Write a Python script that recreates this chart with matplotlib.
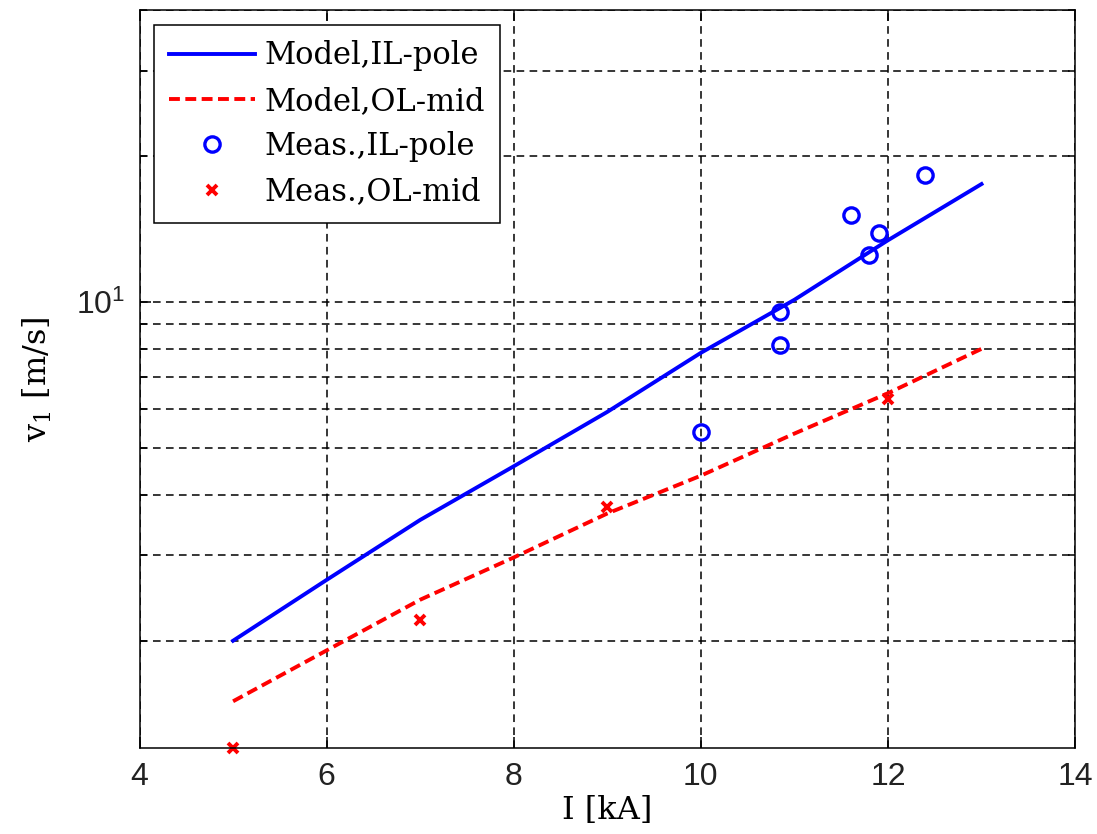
import numpy as np
import matplotlib
matplotlib.use("Agg")
import matplotlib.pyplot as plt
from matplotlib.ticker import FixedLocator, NullFormatter, LogLocator

# model curves (current in kA, velocity in m/s)
I_model = [5, 6, 7, 8, 9, 10, 11, 12, 13]
v_model_il = [2.0, 2.67, 3.55, 4.58, 5.93, 7.85, 10.1, 13.4, 17.5]
v_model_ol = [1.50, 1.91, 2.43, 2.97, 3.66, 4.38, 5.35, 6.48, 8.0]

# measurements
I_meas_il = [10.0, 10.85, 10.85, 11.6, 11.8, 11.9, 12.4]
v_meas_il = [5.40, 8.16, 9.52, 15.1, 12.5, 13.9, 18.3]
I_meas_ol = [5, 7, 9, 12]
v_meas_ol = [1.2, 2.21, 3.78, 6.30]

plt.rcParams['font.family'] = ['DejaVu Serif']
plt.rcParams['mathtext.fontset'] = 'dejavuserif'

fig = plt.figure(figsize=(10.97, 8.34), dpi=100)
ax = fig.add_axes([0.1272, 0.1028, 0.8528, 0.8852])

ax.plot(I_model, v_model_il, color='blue', lw=2.8, label='Model,IL-pole')
ol_line, = ax.plot(I_model, v_model_ol, color='red', lw=2.8, ls='--', label='Model,OL-mid')
ol_line.set_dashes([2.8, 1.4])
ax.plot(I_meas_il, v_meas_il, 'o', mfc='none', mec='blue', mew=2.4, ms=11,
        label='Meas.,IL-pole')
ax.plot(I_meas_ol, v_meas_ol, 'x', color='red', mew=2.8, ms=6.5,
        label='Meas.,OL-mid', clip_on=False)

ax.set_yscale('log')
ax.set_xlim(4, 14)
ax.set_ylim(1.2, 40)
ax.set_xticks([4, 6, 8, 10, 12, 14])
ax.yaxis.set_major_locator(FixedLocator([10]))
ax.set_yticklabels([r'$\mathregular{10^1}$'])
ax.yaxis.set_minor_locator(LogLocator(base=10, subs=np.arange(2, 10)))
ax.yaxis.set_minor_formatter(NullFormatter())

grid_style = dict(color='black', lw=1.1, ls=(0, (5, 3.5)))
ax.xaxis.grid(True, which='major', **grid_style)
ax.yaxis.grid(True, which='both', **grid_style)
ax.set_axisbelow(True)

ax.tick_params(which='both', direction='in', top=True, right=True,
               labelsize=23, width=1.1, pad=10)
ax.tick_params(which='major', length=8)
ax.tick_params(which='minor', length=5)
for lbl in ax.get_xticklabels() + ax.get_yticklabels():
    lbl.set_family('Liberation Sans')
    lbl.set_color('#222222')
for s in ax.spines.values():
    s.set_linewidth(1.1)

ax.set_xlabel('I [kA]', fontsize=23, labelpad=2)
ax.set_ylabel(r'v$\mathregular{_1}$ [m/s]', fontsize=23, labelpad=16)

leg = ax.legend(loc='upper left', bbox_to_anchor=(0.0155, 0.9797),
                borderaxespad=0, fontsize=22, fancybox=False, framealpha=1,
                edgecolor='black', handlelength=2.8, handletextpad=0.3,
                labelspacing=0.47, borderpad=0.5)
leg.get_frame().set_linewidth(1.1)

fig.savefig('out.png', dpi=100)
